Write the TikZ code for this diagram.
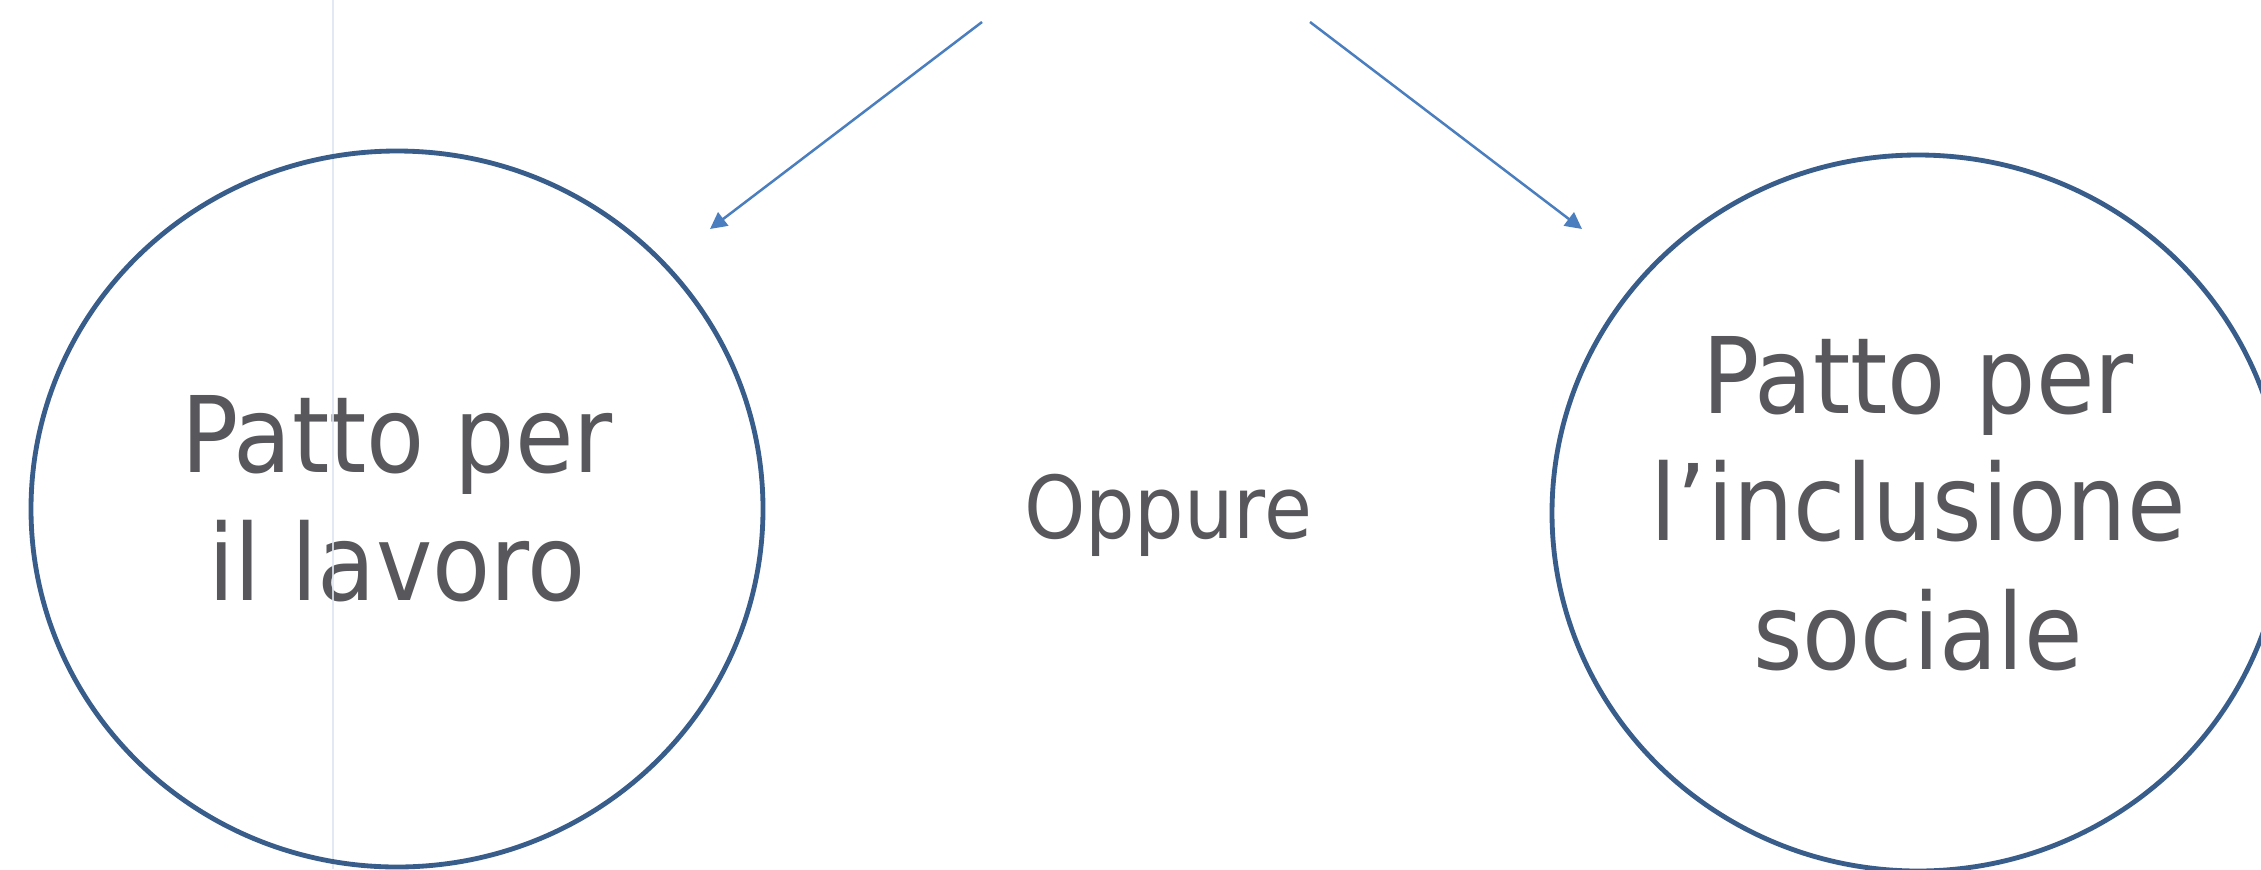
\documentclass[tikz,border=0pt]{standalone}
\usepackage{fontspec}
\setmainfont{DejaVu Sans Condensed}
\usetikzlibrary{arrows.meta}

\definecolor{ringblue}{RGB}{56,93,138}
\definecolor{arrowblue}{RGB}{74,126,190}
\definecolor{textgray}{RGB}{88,88,92}
\definecolor{guide}{RGB}{222,230,240}

\tikzset{
  ring/.style={draw=ringblue, line width=1.45pt},
  flow/.style={draw=arrowblue, line width=0.75pt,
    -{Triangle[length=5pt,width=5pt]}},
  bigtext/.style={anchor=base, inner sep=0pt, text=textgray,
    font=\fontsize{31.7pt}{38pt}\selectfont},
  midtext/.style={anchor=base, inner sep=0pt, text=textgray,
    font=\fontsize{26pt}{31pt}\selectfont},
}

\begin{document}
\begin{tikzpicture}[x=0.3pt, y=-0.3pt]
  % canvas
  \useasboundingbox (0,0) rectangle (2261,869);
  \fill[white] (0,0) rectangle (2261,869);
  \clip (0,0) rectangle (2261,869);

  % left circle: work agreement
  \node[bigtext] (lav1) at (397,472) {Patto per};
  \node[bigtext] (lav2) at (397,600) {il lavoro};

  % faint vertical guide
  \coordinate (gtop) at (333,0);
  \coordinate (gbot) at (333,869);
  \draw[guide, line width=0.45pt, opacity=0.85] (gtop) -- (gbot);

  % centre label
  \node[midtext] (opp) at (1168,538) {Oppure};

  % right circle: social inclusion agreement
  \node[bigtext] (inc1) at (1918,413) {Patto per};
  \node[bigtext] (inc2) at (1918,540) {l’inclusione};
  \node[bigtext] (inc3) at (1918,669) {sociale};

  % outlines
  \draw[ring] (397,509) ellipse [x radius=366, y radius=358];
  \draw[ring] (1918,513) ellipse [x radius=366, y radius=358];

  % branching arrows
  \coordinate (srcL) at (982,22);
  \coordinate (dstL) at (710,229);
  \coordinate (srcR) at (1310,22);
  \coordinate (dstR) at (1582,229);
  \draw[flow] (srcL) -- (dstL);
  \draw[flow] (srcR) -- (dstR);
\end{tikzpicture}
\end{document}
